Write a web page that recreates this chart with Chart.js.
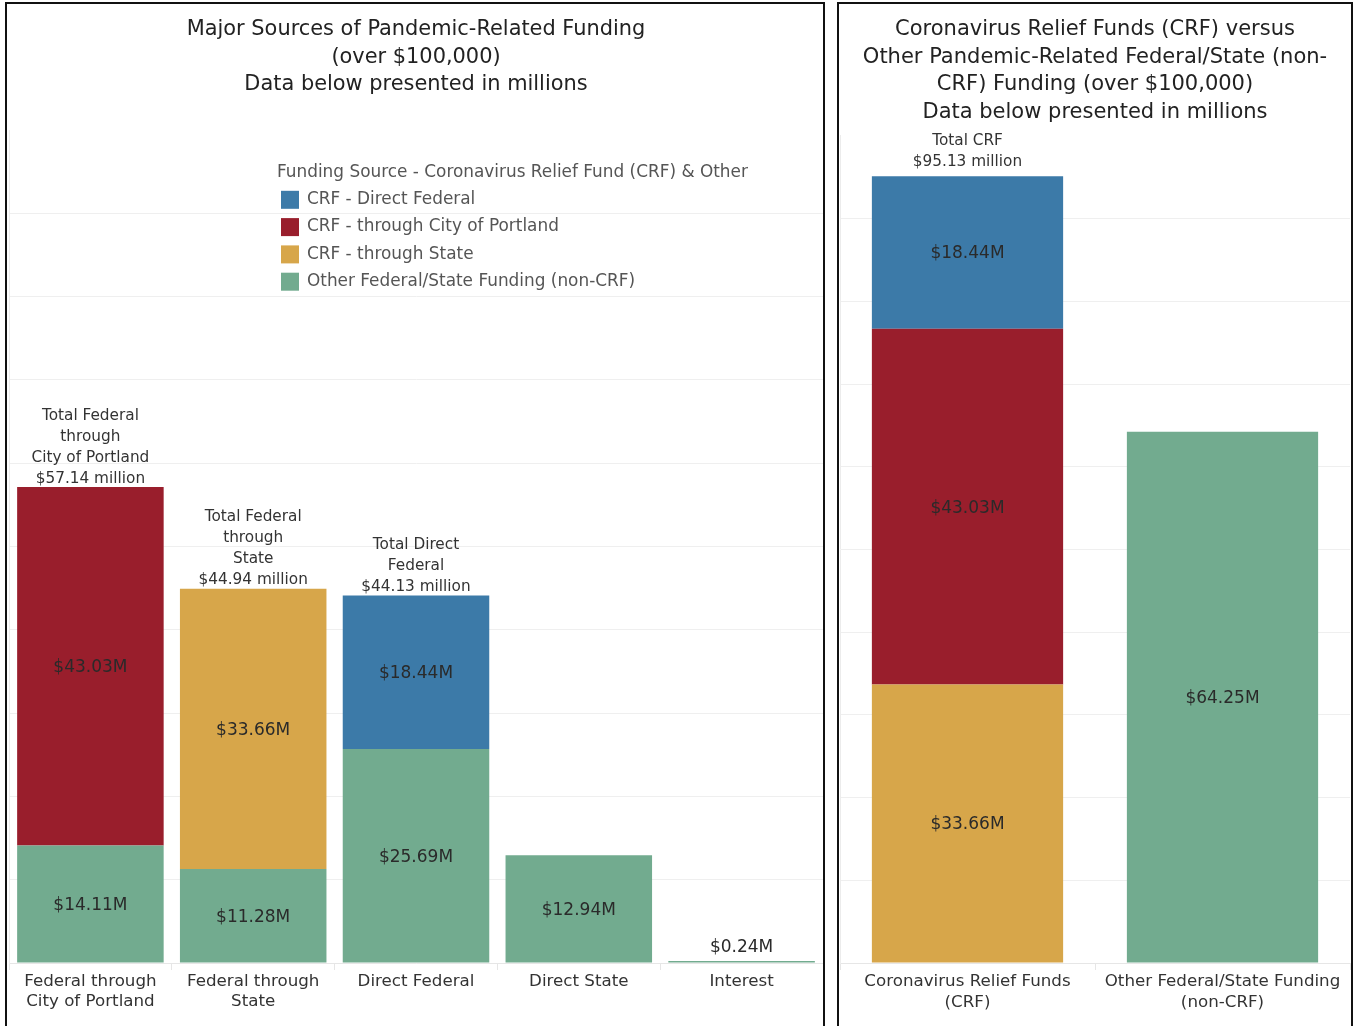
<!DOCTYPE html>
<html>
<head>
<meta charset="utf-8">
<script src="https://cdn.jsdelivr.net/npm/chart.js@4.4.1/dist/chart.umd.min.js"></script>
<style>
  body { margin: 0; background: #fff; }
  .panel { position: absolute; top: 2px; border: 2px solid #111; border-bottom: none; }
  #leftPanel { left: 5px; width: 816px; height: 1030px; }
  #rightPanel { left: 837px; width: 512px; height: 1030px; }
  canvas { display: block; }
</style>
</head>
<body>
<div class="panel" id="leftPanel"><canvas id="sourcesChart" width="816" height="1022"></canvas></div>
<div class="panel" id="rightPanel"><canvas id="crfChart" width="512" height="1022"></canvas></div>
<script>
// ---- data (millions) ----
var sourceCategories = [['Federal through', 'City of Portland'], ['Federal through', 'State'], 'Direct Federal', 'Direct State', 'Interest'];
var crfDirectFederal = [null, null, 18.44, null, null];
var crfCityOfPortland = [43.03, null, null, null, null];
var crfThroughState = [null, 33.66, null, null, null];
var otherFunding = [14.11, 11.28, 25.69, 12.94, 0.24];
var sourceTotalCaptions = [['Total Federal', 'through', 'City of Portland'], ['Total Federal', 'through', 'State'], ['Total Direct', 'Federal'], null, null];

var crfCategories = [['Coronavirus Relief Funds', '(CRF)'], ['Other Federal/State Funding', '(non-CRF)']];
var crfSplitDirect = [18.44, null];
var crfSplitCity = [43.03, null];
var crfSplitState = [33.66, null];
var crfSplitOther = [null, 64.25];
var crfTotalCaptions = [['Total CRF'], null];

var legendTitle = 'Funding Source - Coronavirus Relief Fund (CRF) & Other';
var legendOrder = ['CRF - Direct Federal', 'CRF - through City of Portland', 'CRF - through State', 'Other Federal/State Funding (non-CRF)'];

var colors = {
  direct: '#3c7aa8',
  city: '#991e2c',
  state: '#d7a64a',
  other: '#72ab8f'
};

Chart.defaults.font.family = "'DejaVu Sans', Verdana, sans-serif";
Chart.defaults.color = '#333';

// value labels inside segments + totals above stacks
var barText = {
  id: 'barText',
  afterDatasetsDraw: function(chart, args, opts) {
    var ctx = chart.ctx;
    ctx.save();
    ctx.textAlign = 'center';
    ctx.textBaseline = 'middle';
    ctx.fillStyle = '#2a2a2a';
    ctx.font = "17px 'DejaVu Sans'";
    var tops = [];
    var sums = [];
    chart.data.datasets.forEach(function(ds, di) {
      var meta = chart.getDatasetMeta(di);
      meta.data.forEach(function(bar, i) {
        var v = ds.data[i];
        if (v === null || v === undefined) return;
        var h = bar.base - bar.y;
        var txt = '$' + v.toFixed(2) + 'M';
        if (h > 22) ctx.fillText(txt, bar.x, (bar.y + bar.base) / 2 + 1.5);
        else ctx.fillText(txt, bar.x, bar.y - 13);
        if (tops[i] === undefined || bar.y < tops[i].y) tops[i] = bar;
        sums[i] = (sums[i] || 0) + v;
      });
    });
    ctx.fillStyle = '#333';
    ctx.font = "15.3px 'DejaVu Sans'";
    (opts.captions || []).forEach(function(cap, i) {
      if (!cap || !tops[i]) return;
      var lines = cap.concat(['$' + sums[i].toFixed(2) + ' million']);
      var y = tops[i].y - opts.gap;
      for (var k = lines.length - 1; k >= 0; k--) {
        ctx.fillText(lines[k], tops[i].x, y);
        y -= 21;
      }
    });
    ctx.restore();
  }
};

// legend drawn over the plot area
var floatLegend = {
  id: 'floatLegend',
  afterDraw: function(chart, args, opts) {
    var ctx = chart.ctx;
    ctx.save();
    ctx.textBaseline = 'middle';
    ctx.textAlign = 'left';
    ctx.font = "16.9px 'DejaVu Sans'";
    ctx.fillStyle = '#555';
    ctx.fillText(legendTitle, opts.x, opts.y);
    legendOrder.forEach(function(name, k) {
      var ds = chart.data.datasets.find(function(d) { return d.label === name; });
      var cy = opts.y + 27.3 * (k + 1);
      ctx.fillStyle = ds.backgroundColor;
      ctx.fillRect(opts.x + 4, cy - 9, 18, 18);
      ctx.fillStyle = '#555';
      ctx.fillText(name, opts.x + 30, cy);
    });
    ctx.restore();
  }
};

function gridColor(c) {
  if (c.tick && c.tick.value >= 100) return 'rgba(0,0,0,0)';
  return '#efefef';
}

function makeScales(lineHeight) {
  return {
    x: {
      stacked: true,
      grid: { drawOnChartArea: false, drawTicks: true, tickLength: 7, color: '#e6e6e6' },
      border: { color: '#e6e6e6' },
      ticks: { padding: 1, maxRotation: 0, autoSkip: false, color: '#333', font: { size: 16.7, lineHeight: lineHeight } },
      afterFit: function(s) { s.height = 63; }
    },
    y: {
      stacked: true,
      min: 0,
      max: 100,
      ticks: { display: false, stepSize: 10 },
      grid: { drawTicks: false, color: gridColor },
      border: { color: '#ececec' },
      afterFit: function(s) { s.width = 0; }
    }
  };
}

new Chart(document.getElementById('sourcesChart'), {
  type: 'bar',
  data: {
    labels: sourceCategories,
    datasets: [
      { label: 'Other Federal/State Funding (non-CRF)', data: otherFunding, backgroundColor: colors.other },
      { label: 'CRF - Direct Federal', data: crfDirectFederal, backgroundColor: colors.direct },
      { label: 'CRF - through City of Portland', data: crfCityOfPortland, backgroundColor: colors.city },
      { label: 'CRF - through State', data: crfThroughState, backgroundColor: colors.state }
    ]
  },
  options: {
    responsive: false,
    animation: false,
    barPercentage: 0.9,
    categoryPercentage: 1.0,
    layout: { padding: { left: 2, right: 0, top: 0, bottom: 0 } },
    scales: makeScales(1.22),
    plugins: {
      legend: { display: false },
      tooltip: { enabled: false },
      title: {
        display: true,
        text: ['Major Sources of Pandemic-Related Funding', '(over $100,000)', 'Data below presented in millions'],
        color: '#222',
        font: { size: 20.9, weight: 'normal', lineHeight: 1.316 },
        padding: { top: 12, bottom: 31.5 }
      },
      barText: { captions: sourceTotalCaptions, gap: 8.5 },
      floatLegend: { x: 270, y: 168.5 }
    }
  },
  plugins: [barText, floatLegend]
});

new Chart(document.getElementById('crfChart'), {
  type: 'bar',
  data: {
    labels: crfCategories,
    datasets: [
      { label: 'CRF - through State', data: crfSplitState, backgroundColor: colors.state },
      { label: 'CRF - through City of Portland', data: crfSplitCity, backgroundColor: colors.city },
      { label: 'CRF - Direct Federal', data: crfSplitDirect, backgroundColor: colors.direct },
      { label: 'Other Federal/State Funding (non-CRF)', data: crfSplitOther, backgroundColor: colors.other }
    ]
  },
  options: {
    responsive: false,
    animation: false,
    barPercentage: 0.75,
    categoryPercentage: 1.0,
    layout: { padding: { left: 1, right: 1, top: 0, bottom: 0 } },
    scales: makeScales(1.26),
    plugins: {
      legend: { display: false },
      tooltip: { enabled: false },
      title: {
        display: true,
        text: ['Coronavirus Relief Funds (CRF) versus', 'Other Pandemic-Related Federal/State (non-', 'CRF) Funding (over $100,000)', 'Data below presented in millions'],
        color: '#222',
        font: { size: 21, weight: 'normal', lineHeight: 1.314 },
        padding: { top: 12, bottom: 9.6 }
      },
      barText: { captions: crfTotalCaptions, gap: 14 }
    }
  },
  plugins: [barText]
});
</script>
</body>
</html>
